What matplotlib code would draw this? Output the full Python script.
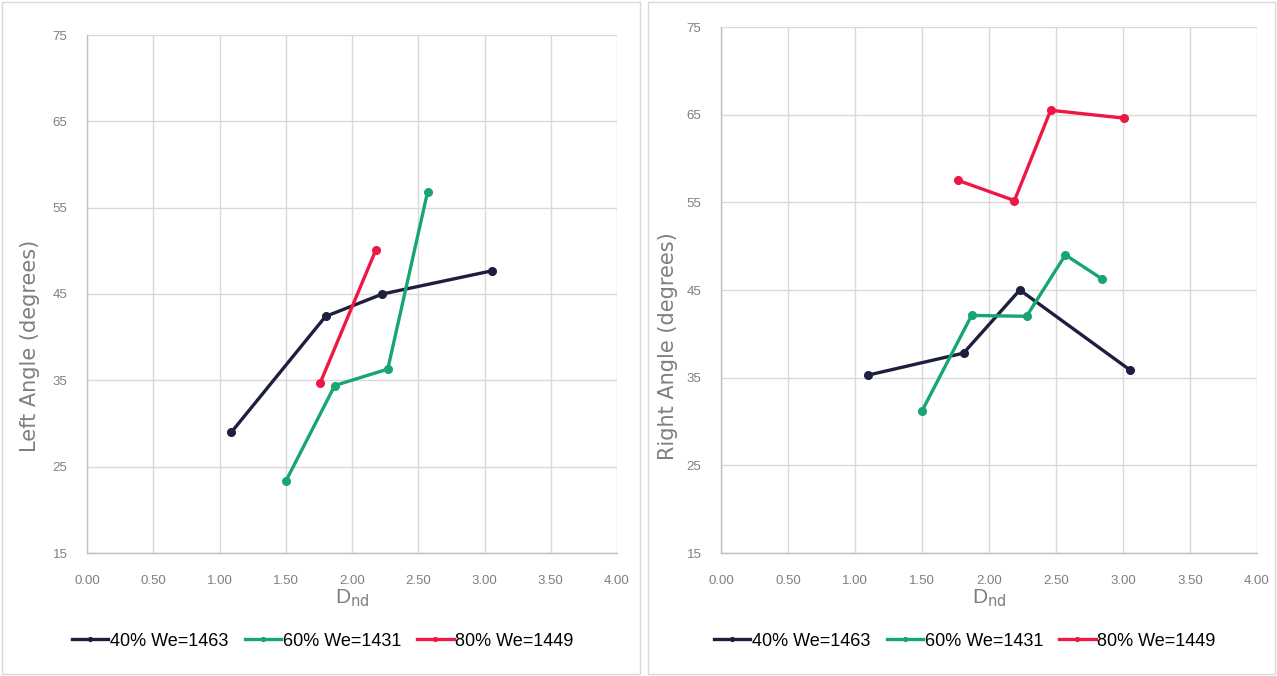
import matplotlib
matplotlib.use("Agg")
import matplotlib.pyplot as plt
from matplotlib.patches import Rectangle

series_labels = ["40% We=1463", "60% We=1431", "80% We=1449"]
colors = ["#1c1f3d", "#17a673", "#ee1845"]

# Left angle data
left_x_40 = [1.09, 1.80, 2.23, 3.06]
left_y_40 = [29.0, 42.4, 45.0, 47.7]
left_x_60 = [1.50, 1.87, 2.27, 2.57]
left_y_60 = [23.3, 34.4, 36.3, 56.8]
left_x_80 = [1.76, 2.18]
left_y_80 = [34.7, 50.1]

# Right angle data
right_x_40 = [1.10, 1.81, 2.23, 3.05]
right_y_40 = [35.3, 37.8, 45.0, 35.9]
right_x_60 = [1.50, 1.87, 2.28, 2.57, 2.84]
right_y_60 = [31.2, 42.1, 42.0, 49.0, 46.3]
right_x_80 = [1.77, 2.19, 2.46, 3.01]
right_y_80 = [57.5, 55.2, 65.5, 64.6]

x_ticks = [0.0, 0.5, 1.0, 1.5, 2.0, 2.5, 3.0, 3.5, 4.0]
y_ticks = [15, 25, 35, 45, 55, 65, 75]

sans = ["Liberation Sans", "DejaVu Sans"]
W, H = 1277, 676
fig = plt.figure(figsize=(W / 100, H / 100), dpi=100)
fig.patch.set_facecolor("white")

# panel frames
for (x0, x1) in [(2, 640), (648, 1275)]:
    fig.patches.append(Rectangle((x0 / W, 2 / H), (x1 - x0) / W, (H - 4) / H,
                                 transform=fig.transFigure, fill=False,
                                 edgecolor="#d9d9d9", linewidth=1.0))

def make_panel(rect, data, ylabel, ylabel_x, legend_cx):
    ax = fig.add_axes(rect)
    ax.set_xlim(0, 4)
    ax.set_ylim(15, 75)
    ax.set_xticks(x_ticks)
    ax.set_yticks(y_ticks)
    ax.set_xticklabels([f"{t:.2f}" for t in x_ticks], family=sans, fontsize=9.5, color="#7f7f7f")
    ax.set_yticklabels([str(t) for t in y_ticks], family=sans, fontsize=9.5, color="#7f7f7f")
    ax.tick_params(axis="y", length=0, pad=14)
    ax.tick_params(axis="x", length=0, pad=16)
    ax.grid(True, color="#d9d9d9", linewidth=1.0)
    ax.set_axisbelow(True)
    for s in ["top", "right"]:
        ax.spines[s].set_visible(False)
    for s in ["left", "bottom"]:
        ax.spines[s].set_color("#bfbfbf")
        ax.spines[s].set_linewidth(1.0)
    handles = []
    for (xs, ys), c, lab in zip(data, colors, series_labels):
        h, = ax.plot(xs, ys, color=c, linewidth=2.4, marker="o", markersize=5.5,
                     label=lab, clip_on=False)
        handles.append(h)
    ax.set_xlabel("D$_{\\mathrm{nd}}$", fontsize=15, color="#7f7f7f", family=sans, labelpad=0)
    fig.text(ylabel_x / W, 1 - 346 / H, ylabel, rotation=90, ha="center", va="center",
             fontsize=15, color="#7f7f7f", family=["DejaVu Sans"])
    fig.legend(handles=handles, loc="center", bbox_to_anchor=(legend_cx / W, 1 - 641 / H),
               ncol=3, frameon=False, prop={"family": sans, "size": 13},
               handlelength=2.0, handletextpad=0.1, columnspacing=0.9, markerscale=0.5)
    return ax

make_panel([87 / W, 1 - 553 / H, (617 - 87) / W, (553 - 35) / H],
           [(left_x_40, left_y_40), (left_x_60, left_y_60), (left_x_80, left_y_80)],
           "Left Angle (degrees)", 30, 323)
make_panel([721 / W, 1 - 553 / H, (1257 - 721) / W, (553 - 27) / H],
           [(right_x_40, right_y_40), (right_x_60, right_y_60), (right_x_80, right_y_80)],
           "Right Angle (degrees)", 668, 965)

fig.savefig("out.png", dpi=100)
